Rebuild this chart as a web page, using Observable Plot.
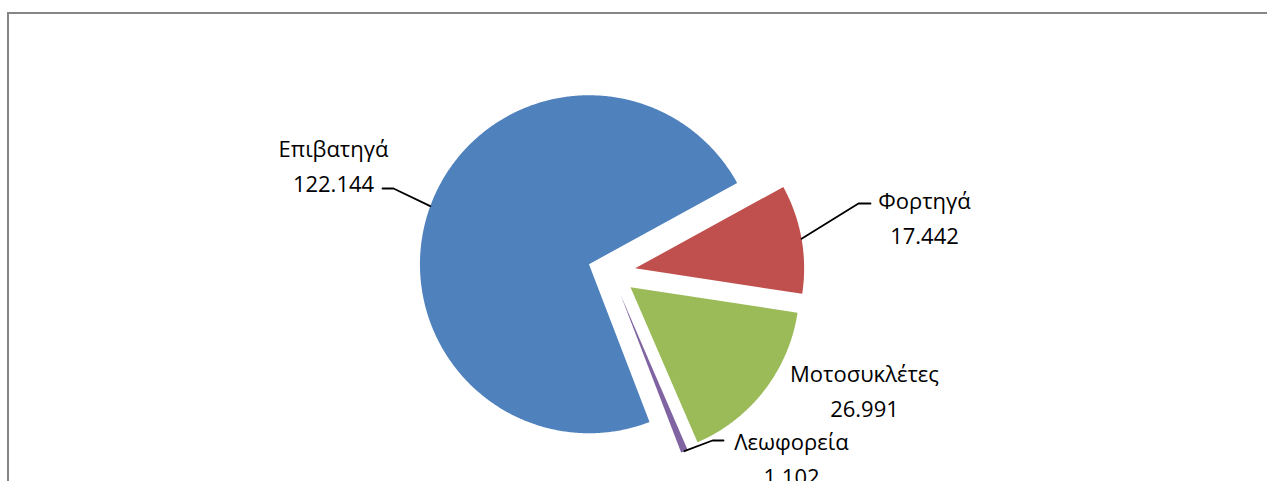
<!DOCTYPE html>
<html>
<head>
<meta charset="utf-8">
<script src="https://cdn.jsdelivr.net/npm/d3@7"></script>
<script src="https://cdn.jsdelivr.net/npm/@observablehq/plot@0.6"></script>
<style>
  html, body { margin: 0; padding: 0; background: #fff; }
  #wrap { position: relative; width: 1267px; height: 481px; overflow: hidden; }
  #border { position: absolute; left: 7px; top: 12px; right: -10px; bottom: -10px;
            border-top: 2px solid #868686; border-left: 2px solid #868686; pointer-events: none; }
</style>
</head>
<body>
<div id="wrap"><div id="border"></div></div>
<script>
// ---- data ----
const categories = ["Επιβατηγά", "Φορτηγά", "Μοτοσυκλέτες", "Λεωφορεία"];
const values = [122.144, 17.442, 26.991, 1.102];
const valueLabels = ["122.144", "17.442", "26.991", "1.102"];
const colors = ["#4F81BD", "#C0504D", "#9BBB59", "#8064A2"];

// ---- layout (pixels) ----
const W = 1267, H = 481;
const CX = 611, CY = 272, R = 169, EXPLODE = 24;
const START_DEG = 159;
const FONT = "'Open Sans', 'Noto Sans', sans-serif";
// label centers and leader-line elbows/ends (pixels), per category
const labelLayout = [
  {x: 333, y: 162.5, elbow: [393, 188], end: [382, 188]},
  {x: 924, y: 215, elbow: [858, 203], end: [870, 203]},
  {x: 864, y: 387.5, elbow: null, end: null},
  {x: 791, y: 456, elbow: [712, 440], end: [723, 440]}
];

// ---- geometry from data ----
const ux = px => (px - CX) / R;
const uy = py => (py - CY) / R;
const pie = d3.pie().sort(null).value(d => d)
  .startAngle(START_DEG * Math.PI / 180)
  .endAngle(START_DEG * Math.PI / 180 + 2 * Math.PI);
const arcs = pie(values);
const ex = EXPLODE / R;

const slicePts = [];
arcs.forEach((a, i) => {
  const mid = (a.startAngle + a.endAngle) / 2;
  const ox = ex * Math.sin(mid), oy = -ex * Math.cos(mid);
  slicePts.push({name: categories[i], x: ox, y: oy});
  const n = Math.max(2, Math.ceil((a.endAngle - a.startAngle) / (Math.PI / 360)));
  for (let k = 0; k <= n; k++) {
    const t = a.startAngle + (a.endAngle - a.startAngle) * k / n;
    slicePts.push({name: categories[i], x: ox + Math.sin(t), y: oy - Math.cos(t)});
  }
});

const leaderPts = [];
arcs.forEach((a, i) => {
  const L = labelLayout[i];
  if (!L.elbow) return;
  const mid = (a.startAngle + a.endAngle) / 2;
  const rho = 1 + ex;
  leaderPts.push({name: categories[i], x: rho * Math.sin(mid), y: -rho * Math.cos(mid)});
  leaderPts.push({name: categories[i], x: ux(L.elbow[0]), y: uy(L.elbow[1])});
  leaderPts.push({name: categories[i], x: ux(L.end[0]), y: uy(L.end[1])});
});

const labels = categories.map((c, i) => ({
  text: c + "\n" + valueLabels[i],
  x: ux(labelLayout[i].x),
  y: uy(labelLayout[i].y)
}));

const chart = Plot.plot({
  width: W,
  height: H,
  margin: 0,
  style: {background: "transparent", fontFamily: FONT},
  x: {type: "linear", domain: [ux(0), ux(W)], range: [0, W], axis: null},
  y: {type: "linear", domain: [uy(0), uy(H)], range: [0, H], axis: null},
  color: {domain: categories, range: colors},
  marks: [
    Plot.line(slicePts, {x: "x", y: "y", z: "name", fill: "name", stroke: "none", curve: "linear-closed"}),
    Plot.line(leaderPts, {x: "x", y: "y", z: "name", stroke: "#000", strokeWidth: 1.8, curve: "linear"}),
    Plot.text(labels, {x: "x", y: "y", text: "text", fill: "#000", fontSize: 22, lineHeight: 1.58,
      textAnchor: "middle", fontFamily: FONT})
  ]
});
document.getElementById("wrap").prepend(chart);
</script>
</body>
</html>
